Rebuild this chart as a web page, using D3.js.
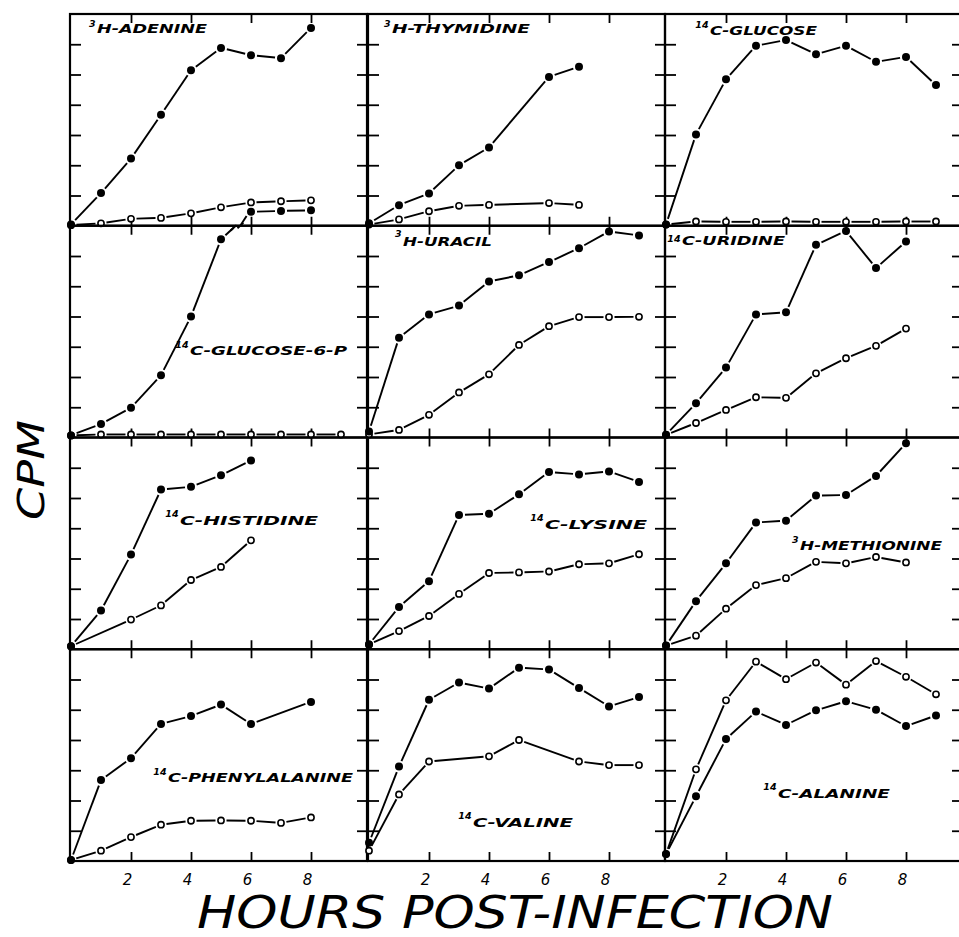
<!DOCTYPE html>
<html><head><meta charset="utf-8">
<script src="https://cdn.jsdelivr.net/npm/d3@7"></script>
<style>body{margin:0;background:#fff} svg{display:block}</style>
</head><body>
<script>
// ---------- DATA ----------
const hours = [0,1,2,3,4,5,6,7,8,9];
const xTickValues = [2,4,6,8];
const xTickLabels = ["2","4","6","8"];
const yTickValues = [1,2,3,4,5,6];
const labelPrefixes = ["3","3","14","14","3","14","14","14","3","14","14","14"];
const labelNames = ["H-ADENINE","H-THYMIDINE","C-GLUCOSE","C-GLUCOSE-6-P","H-URACIL","C-URIDINE",
                    "C-HISTIDINE","C-LYSINE","H-METHIONINE","C-PHENYLALANINE","C-VALINE","C-ALANINE"];

const adenineFilled   = [0.04,1.08,2.22,3.67,5.14,5.88,5.64,5.54,6.54,null];
const adenineOpen     = [0.02,0.08,0.23,0.26,0.41,0.61,0.77,0.81,0.84,null];
const thymidineFilled = [0.08,0.68,1.07,2.00,2.59,null,4.92,5.26,null,null];
const thymidineOpen   = [0.04,0.21,0.48,0.66,0.69,null,0.75,0.69,null,null];
const glucoseFilled   = [0.04,3.02,4.84,5.95,6.14,5.67,5.95,5.42,5.58,4.65];
const glucoseOpen     = [0.04,0.14,0.13,0.13,0.14,0.13,0.13,0.13,0.14,0.14];
const g6pFilled       = [0.07,0.45,0.98,2.06,4.00,6.55,null,null,null,null];
const g6pOpen         = [0.07,0.10,0.10,0.10,0.10,0.10,0.10,0.10,0.10,0.10];
const g6pOverflow     = [null,null,null,null,null,null,0.46,0.49,0.51,null]; // drawn in the adenine panel
const uracilFilled    = [0.20,3.30,4.07,4.36,5.16,5.36,5.80,6.26,6.81,6.68];
const uracilOpen      = [0.10,0.25,0.75,1.49,2.09,3.06,3.68,3.98,3.98,3.99];
const uridineFilled   = [0.09,1.13,2.31,4.07,4.14,6.37,6.83,5.60,6.48,null];
const uridineOpen     = [0.09,0.48,0.91,1.33,1.31,2.12,2.62,3.03,3.60,null];
const histidineFilled = [0.10,1.28,3.13,5.28,5.37,5.75,6.24,null,null,null];
const histidineOpen   = [0.10,null,0.98,1.45,2.29,2.72,3.60,null,null,null];
const lysineFilled    = [0.16,1.40,2.25,4.44,4.48,5.12,5.86,5.78,5.88,5.53];
const lysineOpen      = [0.16,0.60,1.10,1.83,2.52,2.54,2.57,2.81,2.84,3.14];
const methionineFilled= [0.12,1.59,2.84,4.19,4.25,5.08,5.10,5.73,6.81,null];
const methionineOpen  = [0.12,0.45,1.34,2.12,2.35,2.89,2.84,3.05,2.87,null];
const pheFilled       = [0.03,2.68,3.40,4.53,4.79,5.17,4.53,null,5.26,null];
const pheOpen         = [0.03,0.34,0.79,1.20,1.33,1.34,1.33,1.26,1.44,null];
const valineFilled    = [0.60,3.12,5.33,5.90,5.70,6.39,6.33,5.72,5.11,5.42];
const valineOpen      = [0.34,2.20,3.29,null,3.46,4.00,null,3.29,3.17,3.17];
const alanineFilled   = [0.23,2.14,4.03,4.94,4.50,4.98,5.28,5.00,4.46,4.81];
const alanineOpen     = [0.23,3.03,5.31,6.59,6.01,6.56,5.83,6.61,6.09,5.51];

const filledSeries = [adenineFilled,thymidineFilled,glucoseFilled,g6pFilled,uracilFilled,uridineFilled,
                      histidineFilled,lysineFilled,methionineFilled,pheFilled,valineFilled,alanineFilled];
const openSeries   = [adenineOpen,thymidineOpen,glucoseOpen,g6pOpen,uracilOpen,uridineOpen,
                      histidineOpen,lysineOpen,methionineOpen,pheOpen,valineOpen,alanineOpen];

// ---------- LAYOUT ----------
const W = 959, H = 937;
const colLefts = [70, 368, 665];
const colW = 297;
const top0 = 14, bottom0 = 861;
const rowH = (bottom0 - top0) / 4;
// label layout: [prefix baseline, main x, main baseline, main width]
const labelLayout = [
  [27,97,33,110],[27,392,33,138],[28,710,35,107],
  [348,190,355,157],[237,403,246,89],[242,682,245,103],
  [517,180,525,138],[521,545,529,102],[543,800,550,142],
  [775,168,782,185],[819,473,827,100],[790,778,798,112]
];

const svg = d3.select("body").append("svg").attr("width",W).attr("height",H);
const fontFam = "'DejaVu Sans', 'Liberation Sans', sans-serif";

function scales(i){
  const r = Math.floor(i/3), c = i%3;
  const L = colLefts[c], T = top0 + r*rowH, B = T + rowH;
  const x = d3.scaleLinear().domain([0,9.9]).range([L+1, L+1+colW]);
  const y = d3.scaleLinear().domain([0,7]).range([B, T]);
  return {x,y,L,R:L+colW,T,B};
}

function drawSeries(g, x, y, vals, filled){
  const pts = hours.map((h,k)=>({h, v: vals[k]})).filter(d=>d.v!=null)
                   .map(d=>({px:x(d.h), py:y(d.v)}));
  const gap = filled ? 6 : 5.5;
  for(let k=0;k<pts.length-1;k++){
    const a=pts[k], b=pts[k+1];
    const dx=b.px-a.px, dy=b.py-a.py, len=Math.hypot(dx,dy);
    if(len < 2*gap+1) continue;
    const ux=dx/len, uy=dy/len;
    g.append("line").attr("x1",a.px+ux*gap).attr("y1",a.py+uy*gap)
      .attr("x2",b.px-ux*gap).attr("y2",b.py-uy*gap)
      .attr("stroke","#000").attr("stroke-width",1.9);
  }
  g.selectAll(null).data(pts).enter().append("circle")
    .attr("cx",d=>d.px).attr("cy",d=>d.py)
    .attr("r", filled?4:3.1)
    .attr("fill", filled?"#000":"#fff")
    .attr("stroke","#000").attr("stroke-width", filled?0:1.6);
}

for(let i=0;i<12;i++){
  const {x,y,L,R,T,B} = scales(i);
  const g = svg.append("g");
  const axes = g.append("g").attr("class","ax");
  axes.append("g").attr("transform",`translate(${L},0)`)
    .call(d3.axisRight(y).tickValues(yTickValues).tickSize(11).tickFormat(""));
  axes.append("g").attr("transform",`translate(${R},0)`)
    .call(d3.axisLeft(y).tickValues(yTickValues).tickSize(10).tickFormat(""));
  axes.append("g").attr("transform",`translate(0,${T})`)
    .call(d3.axisBottom(x).tickValues(xTickValues).tickSize(9).tickFormat(""));
  axes.append("g").attr("transform",`translate(0,${B})`)
    .call(d3.axisTop(x).tickValues(xTickValues).tickSize(9).tickFormat(""));
  axes.selectAll(".domain").remove();
  axes.selectAll(".tick line").attr("stroke","#000").attr("stroke-width",1.8);

  g.append("rect").attr("x",L).attr("y",T).attr("width",R-L).attr("height",B-T)
    .attr("fill","none").attr("stroke","#000").attr("stroke-width",2.2);

  drawSeries(g, x, y, openSeries[i], false);
  drawSeries(g, x, y, filledSeries[i], true);

  if(i>=9){
    const lab = g.append("g").attr("transform",`translate(-4,${B})`)
      .call(d3.axisBottom(x).tickValues(xTickValues).tickSize(0).tickPadding(13)
        .tickFormat((d,k)=>xTickLabels[k]));
    lab.select(".domain").remove();
    lab.selectAll("text").attr("font-family",fontFam).attr("font-style","italic")
      .attr("font-size",15).attr("fill","#000");
  }

  const [pb,mx,mb,mw] = labelLayout[i];
  g.append("text").attr("x",mx-1.5).attr("y",pb).text(labelPrefixes[i])
    .attr("text-anchor","end")
    .attr("font-family",fontFam).attr("font-style","italic").attr("font-weight","bold")
    .attr("font-size",9.5);
  g.append("text").attr("x",mx).attr("y",mb).text(labelNames[i])
    .attr("font-family",fontFam).attr("font-style","italic").attr("font-weight","bold")
    .attr("font-size",13).attr("textLength",mw).attr("lengthAdjust","spacingAndGlyphs");
}

// Glucose-6-P overflow into the adenine panel (with break marks)
{
  const s4 = scales(3), s1 = scales(0);
  const gOv = svg.append("g");
  drawSeries(gOv, s1.x, s1.y, g6pOverflow, true);
  const p5 = {px:s4.x(5), py:s4.y(g6pFilled[5])};
  const p6 = {px:s1.x(6), py:s1.y(g6pOverflow[6])};
  const dx=p6.px-p5.px, dy=p6.py-p5.py, len=Math.hypot(dx,dy), ux=dx/len, uy=dy/len;
  const gap=6, nx=-uy, ny=ux;
  const f1 = 0.42, f2 = 0.58;
  gOv.append("line").attr("x1",p5.px+ux*gap).attr("y1",p5.py+uy*gap)
    .attr("x2",p5.px+dx*f1).attr("y2",p5.py+dy*f1).attr("stroke","#000").attr("stroke-width",1.9);
  gOv.append("line").attr("x1",p5.px+dx*f2+nx*3).attr("y1",p5.py+dy*f2+ny*3)
    .attr("x2",p6.px-ux*gap).attr("y2",p6.py-uy*gap).attr("stroke","#000").attr("stroke-width",1.9);
  [f1, f2].forEach((f,k)=>{
    const cx=p5.px+dx*f+nx*3*k, cy=p5.py+dy*f+ny*3*k;
    gOv.append("line").attr("x1",cx-ux*4).attr("y1",cy-uy*4).attr("x2",cx+ux*4).attr("y2",cy+uy*4)
      .attr("stroke","#000").attr("stroke-width",1.9);
  });
}

// axis titles
svg.append("text").attr("transform","translate(44,470) rotate(-90)")
  .attr("text-anchor","middle").text("CPM")
  .attr("font-family",fontFam).attr("font-style","italic").attr("font-size",38)
  .attr("textLength",100).attr("lengthAdjust","spacingAndGlyphs");
svg.append("text").attr("x",197).attr("y",928).text("HOURS POST-INFECTION")
  .attr("font-family",fontFam).attr("font-style","italic").attr("font-size",44)
  .attr("textLength",636).attr("lengthAdjust","spacingAndGlyphs");
</script>
</body></html>
